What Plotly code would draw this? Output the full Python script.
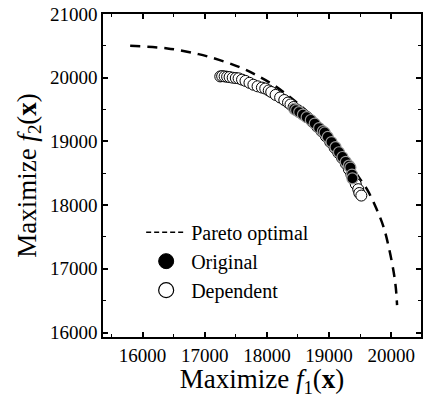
import plotly.graph_objects as go

# Pareto optimal front
pareto_x = [15800, 16400, 16900, 17230, 17550, 17830, 18100, 18390, 18700, 19000,
            19250, 19420, 19610, 19760, 19880, 19970, 20040, 20075, 20095]
pareto_y = [20500, 20460, 20370, 20280, 20170, 20040, 19890, 19680, 19420, 19100,
            18780, 18520, 18250, 17950, 17650, 17300, 16950, 16700, 16430]

# Dependent solutions (open circles)
dep_x = [17250, 17280, 17320, 17360, 17400, 17450, 17500, 17545, 17600, 17656,
         17720, 17783, 17850, 17920, 17974, 18030, 18070, 18140, 18213, 18280,
         18340, 18380, 18430, 18500, 18580, 18650, 18730, 18810, 18880, 18950,
         19020, 19090, 19150, 19210, 19270, 19320, 19360, 19400, 19430, 19470,
         19487, 19520]
dep_y = [20020, 20025, 20020, 20015, 20010, 20000, 19995, 19990, 19970, 19950,
         19920, 19890, 19865, 19845, 19830, 19800, 19776, 19730, 19690, 19650,
         19610, 19580, 19540, 19490, 19430, 19380, 19310, 19230, 19160, 19080,
         18990, 18900, 18820, 18740, 18650, 18560, 18480, 18400, 18330, 18250,
         18190, 18150]

# Original solutions (filled circles)
orig_x = [18440, 18470, 18520, 18580, 18640, 18707, 18770, 18840, 18900, 18930,
          18980, 19040, 19105, 19160, 19216, 19270, 19320, 19344, 19370, 19376]
orig_y = [19510, 19490, 19460, 19420, 19380, 19336, 19280, 19210, 19160, 19140,
          19070, 18990, 18910, 18830, 18755, 18680, 18620, 18590, 18480, 18420]

x_ticks = [16000, 17000, 18000, 19000, 20000]
y_ticks = [16000, 17000, 18000, 19000, 20000, 21000]

FONT = "Liberation Serif"

fig = go.Figure()
fig.add_trace(go.Scatter(x=pareto_x, y=pareto_y, mode="lines", line_shape="spline",
                         line=dict(color="black", width=2.5, dash="10px,7px"),
                         showlegend=False))
fig.add_trace(go.Scatter(x=dep_x, y=dep_y, mode="markers", showlegend=False,
                         marker=dict(size=11, color="white",
                                     line=dict(color="black", width=1))))
fig.add_trace(go.Scatter(x=orig_x, y=orig_y, mode="markers", showlegend=False,
                         marker=dict(size=11, color="black",
                                     line=dict(color="#999999", width=1.2))))
# legend entries
fig.add_trace(go.Scatter(x=[None], y=[None], mode="lines", name="Pareto optimal",
                         line=dict(color="black", width=1.5, dash="5px,3px")))
fig.add_trace(go.Scatter(x=[None], y=[None], mode="markers", name="Original",
                         marker=dict(size=15, color="black",
                                     line=dict(color="black", width=1))))
fig.add_trace(go.Scatter(x=[None], y=[None], mode="markers", name="Dependent",
                         marker=dict(size=15, color="white",
                                     line=dict(color="black", width=1.2))))

axis_common = dict(showline=True, linecolor="black", linewidth=1.5, mirror="ticks",
                   ticks="inside", ticklen=5, tickwidth=1.5, tickcolor="black",
                   showgrid=False, zeroline=False, tickformat="d",
                   tickfont=dict(family=FONT, size=19, color="black"),
                   minor=dict(ticks="inside", ticklen=3, tickwidth=1.2,
                              tickcolor="black", dtick=500, showgrid=False))

fig.update_xaxes(range=[15363, 20480], tickvals=x_ticks,
                 ticktext=[str(v) for v in x_ticks],
                 title=dict(text="Maximize <i>f</i><sub>1</sub>(<b>x</b>)",
                            font=dict(family=FONT, size=27, color="black"), standoff=8),
                 **axis_common)
fig.update_yaxes(range=[15930, 21000], tickvals=y_ticks,
                 ticktext=[str(v) for v in y_ticks],
                 title=dict(text="Maximize <i>f</i><sub>2</sub>(<b>x</b>)",
                            font=dict(family=FONT, size=27, color="black"), standoff=6),
                 **axis_common)

fig.update_layout(
    width=425, height=398,
    margin=dict(l=103, r=2, t=14, b=61),
    plot_bgcolor="white", paper_bgcolor="white",
    legend=dict(x=0.12, y=0.385, xanchor="left", yanchor="top",
                bgcolor="rgba(0,0,0,0)", font=dict(family=FONT, size=20, color="black"),
                tracegroupgap=0, itemwidth=40),
)

fig.write_html("out.html")
